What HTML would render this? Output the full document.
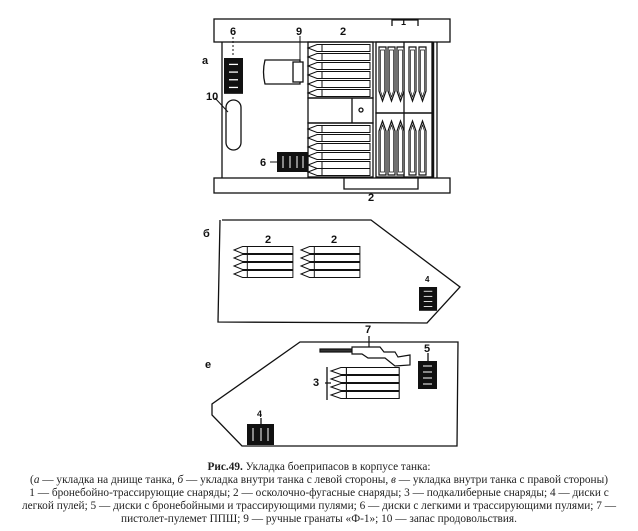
<!DOCTYPE html>
<html><head><meta charset="utf-8">
<style>
html,body{margin:0;padding:0;background:#fff;width:638px;height:531px;overflow:hidden}
svg{position:absolute;left:0;top:0}
.cap{position:absolute;left:0;width:638px;text-align:center;font-family:"Liberation Serif",serif;font-size:11.3px;color:#222;line-height:13px;white-space:nowrap}
.lbl{font-family:"Liberation Sans",sans-serif;font-weight:bold;font-size:11px;fill:#111}
</style></head><body>
<svg width="638" height="531" viewBox="0 0 638 531">
<defs>
<g id="hs"><path d="M0,4 L9,0.5 L62,0.5 L62,7.5 L9,7.5 Z" fill="#fff" stroke="#111" stroke-width="1"/><line x1="14" y1="0.5" x2="14" y2="7.5" stroke="#111"/></g>
<g id="vs"><path d="M1,0 L8,0 L8,44 L4.5,54 L1,44 Z" fill="#fff" stroke="#111" stroke-width="1.2"/><path d="M2.5,3 L6.5,3 L6.5,44 L4.5,50 L2.5,44 Z" fill="none" stroke="#111" stroke-width="0.7"/></g>
<g id="disc"><rect x="0" y="0" width="19" height="28" fill="#111"/><g stroke="#fff" stroke-width="1"><line x1="5" y1="5" x2="14" y2="5"/><line x1="5" y1="11" x2="14" y2="11"/><line x1="5" y1="17" x2="14" y2="17"/><line x1="5" y1="23" x2="14" y2="23"/></g></g>
</defs>
<g fill="none" stroke="#111" stroke-width="1.3">
<!-- panel a -->
<rect x="214" y="19" width="236" height="23"/>
<line x1="222" y1="42" x2="222" y2="178"/>
<rect x="214" y="178" width="236" height="15"/>
<line x1="433" y1="42" x2="433" y2="178" stroke-width="2.5"/>
<line x1="437" y1="42" x2="437" y2="178"/>
<rect x="308" y="42" width="65" height="56"/>
<rect x="308" y="98" width="65" height="25"/>
<line x1="352" y1="98" x2="352" y2="123"/>
<rect x="308" y="123" width="65" height="54"/>
<rect x="376" y="42" width="56" height="71"/>
<rect x="376" y="113" width="56" height="64"/>
<line x1="404" y1="42" x2="404" y2="177"/>
<path d="M344,178 L344,189 L418,189 L418,178"/>
<path d="M392,26 L392,20 L418,20 L418,26"/>
<path d="M277,60 L265,60 Q262,72 265,84 L300,84 L300,60 Z" fill="#fff"/>
<rect x="293" y="62" width="10" height="20" fill="#fff"/>
<rect x="226" y="100" width="15" height="50" rx="7.5"/>
<line x1="215" y1="98" x2="228" y2="112" stroke-width="1"/>
<line x1="300" y1="36" x2="300" y2="62" stroke-width="1"/>
<line x1="270" y1="162" x2="278" y2="162" stroke-width="1"/>
<line x1="233" y1="37" x2="233" y2="57" stroke-width="1" stroke-dasharray="2,2"/>
<circle cx="361" cy="110" r="2"/>
<!-- panel b -->
<path d="M222,220 L371,220 L460,287 L427,323 L218,322 L220,220"/>
<!-- panel v -->
<path d="M300,342 L458,342 L457,446 L242,446 L212,415 L212,404 Z"/>
<path d="M327,367 L327,400 M325,383 L331,383"/>
<line x1="428" y1="353" x2="428" y2="361"/>
<line x1="261" y1="418" x2="261" y2="424"/>
</g>
<!-- shells panel a -->
<g>
<use href="#hs" x="308" y="44"/><use href="#hs" x="308" y="53"/><use href="#hs" x="308" y="62"/><use href="#hs" x="308" y="71"/><use href="#hs" x="308" y="80"/><use href="#hs" x="308" y="89"/>
<use href="#hs" x="308" y="125"/><use href="#hs" x="308" y="134"/><use href="#hs" x="308" y="143"/><use href="#hs" x="308" y="152"/><use href="#hs" x="308" y="161"/><use href="#hs" x="308" y="168"/>
<use href="#vs" x="378" y="47"/><use href="#vs" x="387" y="47"/><use href="#vs" x="396" y="47"/><use href="#vs" x="408" y="47"/><use href="#vs" x="418" y="47"/>
<g transform="translate(0,291) scale(1,-1)"><use href="#vs" x="378" y="116"/><use href="#vs" x="387" y="116"/><use href="#vs" x="396" y="116"/><use href="#vs" x="408" y="116"/><use href="#vs" x="418" y="116"/></g>
<!-- panel b shells -->
<g transform="translate(234,246) scale(0.95,1)"><use href="#hs" x="0" y="0"/><use href="#hs" x="0" y="8"/><use href="#hs" x="0" y="16"/><use href="#hs" x="0" y="24"/></g>
<g transform="translate(301,246) scale(0.95,1)"><use href="#hs" x="0" y="0"/><use href="#hs" x="0" y="8"/><use href="#hs" x="0" y="16"/><use href="#hs" x="0" y="24"/></g>
<!-- panel v shells -->
<g transform="translate(331,367) scale(1.1,1)"><use href="#hs" x="0" y="0"/><use href="#hs" x="0" y="8"/><use href="#hs" x="0" y="16"/><use href="#hs" x="0" y="24"/></g>
<!-- discs -->
<g transform="translate(224,58) scale(1,1.28)"><use href="#disc"/></g>
<rect x="277" y="152" width="31" height="20" fill="#111"/>
<g stroke="#fff"><line x1="283" y1="156" x2="283" y2="168"/><line x1="290" y1="156" x2="290" y2="168"/><line x1="297" y1="156" x2="297" y2="168"/><line x1="303" y1="156" x2="303" y2="168"/></g>
<g transform="translate(419,287) scale(0.95,0.85)"><use href="#disc"/></g>
<use href="#disc" x="418" y="361"/>
<rect x="247" y="424" width="27" height="21" fill="#111"/>
<g stroke="#fff"><line x1="253" y1="428" x2="253" y2="441"/><line x1="261" y1="428" x2="261" y2="441"/><line x1="268" y1="428" x2="268" y2="441"/></g>
<!-- gun -->
<g stroke="#111" fill="#fff" stroke-width="1.2">
<rect x="320" y="349" width="32" height="3" fill="#333"/>
<path d="M352,347 L380,347 L384,352 L395,352 L398,357 L410,355 L410,365 L395,366 L385,358 L368,358 L362,354 L352,354 Z"/>
<line x1="369" y1="336" x2="369" y2="347"/>
</g>
</g>
<text class="lbl" x="230" y="35">6</text>
<text class="lbl" x="296" y="35">9</text>
<text class="lbl" x="340" y="35">2</text>
<text class="lbl" x="401" y="25" style="font-size:9px">1</text>
<text class="lbl" x="202" y="64">a</text>
<text class="lbl" x="206" y="100">10</text>
<text class="lbl" x="260" y="166">6</text>
<text class="lbl" x="368" y="201">2</text>
<text class="lbl" x="203" y="237">б</text>
<text class="lbl" x="265" y="243">2</text>
<text class="lbl" x="331" y="243">2</text>
<text class="lbl" x="425" y="282" style="font-size:8px">4</text>
<text class="lbl" x="365" y="333">7</text>
<text class="lbl" x="205" y="368">е</text>
<text class="lbl" x="313" y="386">3</text>
<text class="lbl" x="424" y="352">5</text>
<text class="lbl" x="257" y="417" style="font-size:9px">4</text>
</svg>
<div class="cap" style="top:461px"><b>Рис.49.</b> Укладка боеприпасов в корпусе танка:</div>
<div class="cap" style="top:474px">(<i>а</i> — укладка на днище танка, <i>б</i> — укладка внутри танка с левой стороны, <i>в</i> — укладка внутри танка с правой стороны)</div>
<div class="cap" style="top:487px">1 — бронебойно-трассирующие снаряды; 2 — осколочно-фугасные снаряды; 3 — подкалиберные снаряды; 4 — диски с</div>
<div class="cap" style="top:500px">легкой пулей; 5 — диски с бронебойными и трассирующими пулями; 6 — диски с легкими и трассирующими пулями; 7 —</div>
<div class="cap" style="top:513px">пистолет-пулемет ППШ; 9 — ручные гранаты «Ф-1»; 10 — запас продовольствия.</div>
</body></html>
